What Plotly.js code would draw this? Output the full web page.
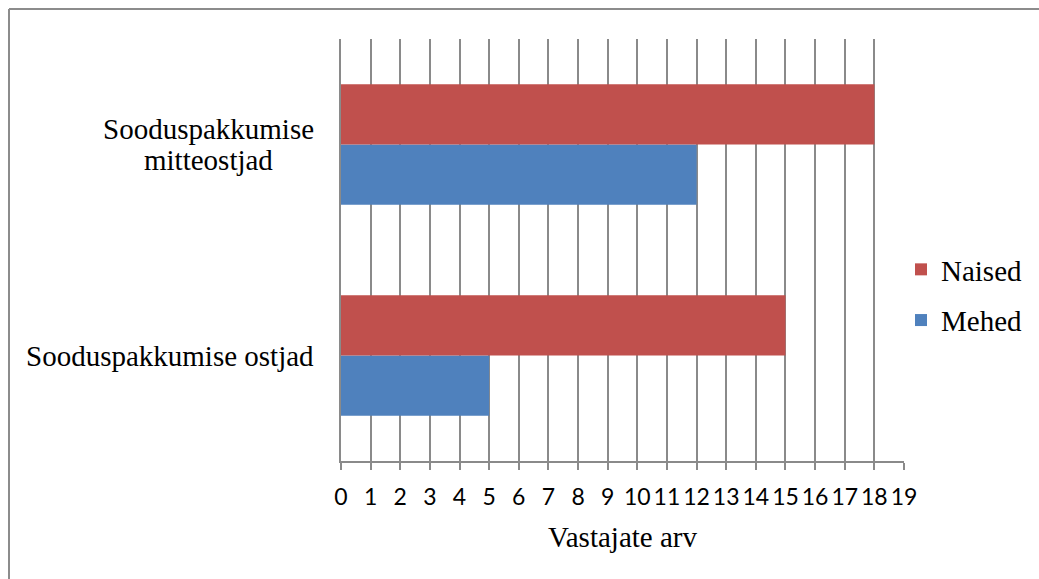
<!DOCTYPE html>
<html>
<head>
<meta charset="utf-8">
<script src="https://cdn.plot.ly/plotly-3.0.1.min.js"></script>
<style>
  html, body { margin: 0; padding: 0; background: #fff; }
  #chart { width: 1039px; height: 579px; }
</style>
</head>
<body>
<div id="chart"></div>
<script>
// Respondent groups (bottom to top) and counts per gender
const categories = ['Sooduspakkumise ostjad', 'Sooduspakkumise mitteostjad'];
const categoryLines = [['Sooduspakkumise ostjad'], ['Sooduspakkumise', 'mitteostjad']];
const mehed = [5, 12];
const naised = [15, 18];
const xTicks = [0, 1, 2, 3, 4, 5, 6, 7, 8, 9, 10, 11, 12, 13, 14, 15, 16, 17, 18, 19];

const serif = 'Liberation Serif';
const sans = 'Lato';

const W = 1039, H = 579;
const margin = { l: 341, r: 135, t: 39, b: 118, autoexpand: false };
const pw = W - margin.l - margin.r;
const ph = H - margin.t - margin.b;
// pixel -> paper-coordinate helpers
const px = v => (v - margin.l) / pw;
const py = v => 1 - (v - margin.t) / ph;

const traces = [
  {
    type: 'bar', orientation: 'h', name: 'Mehed',
    y: categories, x: mehed,
    marker: { color: '#4F81BD' },
    legendgroup: 'm', legendrank: 2, hoverinfo: 'x+name'
  },
  {
    type: 'bar', orientation: 'h', name: 'Naised',
    y: categories, x: naised,
    marker: { color: '#C0504D' },
    legendgroup: 'n', legendrank: 1, hoverinfo: 'x+name'
  }
];

// Category labels: each line its own annotation, lines centred in a block
// whose right edge sits left of the axis
const labelCenters = [170, 208];
const lineGap = 31;
const annotations = [];
categories.forEach((c, i) => {
  const lines = categoryLines[i];
  lines.forEach((t, j) => {
    annotations.push({
      xref: 'paper', yref: 'y', x: px(labelCenters[i]), y: c,
      xanchor: 'center', yanchor: 'middle',
      yshift: ((lines.length - 1) / 2 - j) * lineGap,
      text: t, showarrow: false,
      font: { family: serif, size: 29, color: '#000' }
    });
  });
});

const layout = {
  width: W, height: H,
  margin: margin,
  font: { family: serif, color: '#000' },
  paper_bgcolor: '#fff', plot_bgcolor: '#fff',
  barmode: 'group', bargap: 0.43, bargroupgap: 0,
  showlegend: true,
  legend: {
    x: px(901), y: py(244), xanchor: 'left', yanchor: 'top',
    traceorder: 'grouped', tracegroupgap: 10,
    font: { family: serif, size: 29, color: '#000' },
    itemwidth: 30
  },
  xaxis: {
    range: [0, 19], tickvals: xTicks, ticktext: xTicks.map(String),
    showgrid: true, gridcolor: '#8A8A8A', gridwidth: 2,
    showline: true, linecolor: '#8A8A8A', linewidth: 2,
    ticks: 'outside', ticklen: 7, tickwidth: 2, tickcolor: '#8A8A8A',
    zeroline: false,
    tickfont: { family: sans, size: 23, color: '#000' },
    ticklabelstandoff: 7,
    title: { text: 'Vastajate arv', font: { family: serif, size: 29, color: '#000' }, standoff: 18 },
    fixedrange: true
  },
  yaxis: {
    type: 'category', categoryorder: 'array', categoryarray: categories,
    showticklabels: false, showgrid: false, zeroline: false,
    showline: true, linecolor: '#8A8A8A', linewidth: 2,
    ticks: '', fixedrange: true
  },
  annotations: annotations,
  shapes: [
    { type: 'line', xref: 'paper', yref: 'paper', x0: px(9), x1: px(1045), y0: py(9), y1: py(9),
      line: { color: '#8C8C8C', width: 2 } },
    { type: 'line', xref: 'paper', yref: 'paper', x0: px(9), x1: px(9), y0: py(9), y1: py(590),
      line: { color: '#8C8C8C', width: 2 } }
  ]
};

Plotly.newPlot('chart', traces, layout, { displayModeBar: false, staticPlot: true });
</script>
</body>
</html>
